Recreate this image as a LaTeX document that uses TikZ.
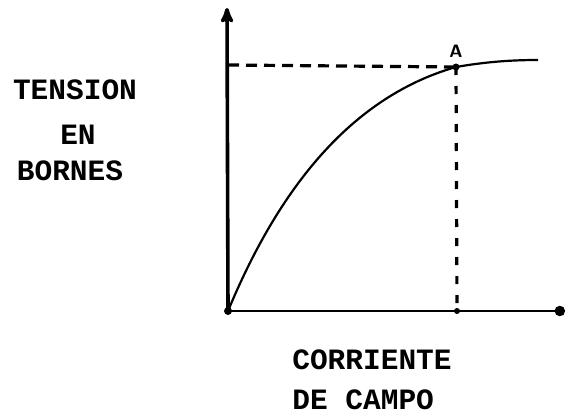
\documentclass[tikz,border=0pt]{standalone}
\usepackage{fontspec}
\setmonofont{Liberation Mono}
\usetikzlibrary{arrows,positioning}

\begin{document}
\begin{tikzpicture}[x=1pt,y=-1pt,>=stealth',
                    axis label/.style={font=\ttfamily\bfseries\fontsize{29.5}{30}\selectfont,inner sep=0pt},
                    axis line/.style={line width=3.6pt},
                    guide/.style={line width=3.2pt,dash pattern=on 11pt off 7pt}]
\useasboundingbox (0,0) rectangle (569,415);

\coordinate (O) at (228,311);
\coordinate (ytop) at (227,8);
\coordinate (xend) at (565,311);
\coordinate (A) at (456,67);
\coordinate (Ay) at (228,65);
\coordinate (Ax) at (457,311);
\coordinate (tail) at (538,60);

% axes
\draw[axis line,->] (O) -- (ytop);
\draw[line width=2.4pt,-*] (O) -- (xend);
\fill (O) circle (4pt);

% saturation point
\draw[guide] (Ay) -- (A);
\draw[guide,dash pattern=on 8pt off 11pt] (A) -- (Ax);
\fill (A) circle (3.5pt) (Ax) circle (3pt);
\node[font=\sffamily\bfseries\fontsize{18}{18}\selectfont] (Alabel) [above=6pt of A] {A};

% characteristic
\draw[line width=2.2pt] (O) .. controls (274,200) and (344,99) .. (A)
  .. controls (485,62) and (510,60) .. (tail);

% labels
\node[axis label] (tension) at (75,90) {TENSION};
\node[axis label] (en) at (78,135) {EN};
\node[axis label] (bornes) at (70,171) {BORNES};
\node[axis label] (corriente) at (372,360) {CORRIENTE};
\node[axis label,anchor=west] (campo) at (corriente.west |- 0,400) {DE CAMPO};
\end{tikzpicture}
\end{document}
